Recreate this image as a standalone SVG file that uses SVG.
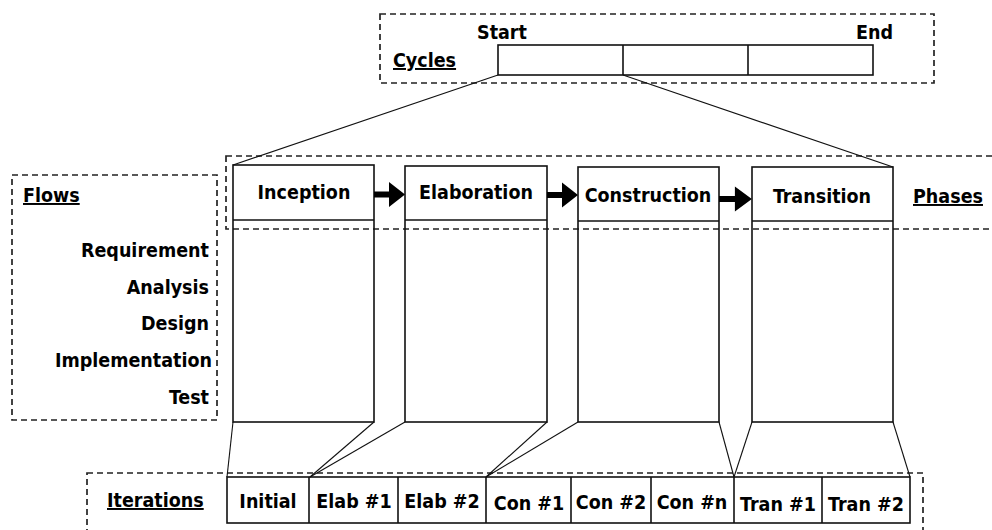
<svg xmlns="http://www.w3.org/2000/svg" width="992" height="530" viewBox="0 0 992 530">
  <style>
    .bg { fill: #ffffff; }
    .box { fill: none; stroke: #111; stroke-width: 1.6; }
    .dash { fill: none; stroke: #222; stroke-width: 1.7; stroke-dasharray: 6 4; }
    .thin { fill: none; stroke: #111; stroke-width: 1.1; }
    .lbl { font-family: "DejaVu Sans Condensed", "DejaVu Sans", "Liberation Sans", sans-serif; font-weight: bold; font-size: 19.5px; fill: #000; }
    .mid { text-anchor: middle; }
    .end { text-anchor: end; }
    .ul { text-decoration: underline; }
    .arrow { fill: #000; }
  </style>
  <defs>
    <!-- block arrow, tail at origin pointing right -->
    <path id="blockArrow" d="M0,-3 L15,-3 L15,-12.5 L31,0 L15,12.5 L15,3 L0,3 Z"/>
  </defs>

  <rect class="bg" x="0" y="0" width="992" height="530"/>

  <!-- Cycles -->
  <g id="cycles">
    <rect class="dash" x="380" y="14" width="554" height="69"/>
    <text class="lbl ul" x="393" y="67">Cycles</text>
    <text class="lbl" x="477" y="39">Start</text>
    <text class="lbl" x="856" y="39">End</text>
    <rect class="box" x="498" y="45" width="375" height="30"/>
    <line class="box" x1="623" y1="45" x2="623" y2="75"/>
    <line class="box" x1="748" y1="45" x2="748" y2="75"/>
  </g>

  <!-- Phases band -->
  <g id="phases-band">
    <rect class="dash" x="226" y="156" width="800" height="73"/>
    <text class="lbl ul" x="913" y="203">Phases</text>
  </g>

  <!-- Flows -->
  <g id="flows">
    <rect class="dash" x="12" y="175" width="205" height="245"/>
    <text class="lbl ul" x="23" y="202">Flows</text>
    <text class="lbl end" x="209" y="257">Requirement</text>
    <text class="lbl end" x="209" y="294">Analysis</text>
    <text class="lbl end" x="209" y="330">Design</text>
    <text class="lbl end" x="212" y="367">Implementation</text>
    <text class="lbl end" x="209" y="404">Test</text>
  </g>

  <!-- Phase columns -->
  <g id="inception">
    <rect class="box" x="233" y="165" width="141" height="257"/>
    <line class="box" x1="233" y1="220" x2="374" y2="220"/>
    <text class="lbl mid" x="304" y="199">Inception</text>
  </g>
  <g id="elaboration">
    <rect class="box" x="405" y="166" width="142" height="256"/>
    <line class="box" x1="405" y1="220" x2="547" y2="220"/>
    <text class="lbl mid" x="476" y="199">Elaboration</text>
  </g>
  <g id="construction">
    <rect class="box" x="578" y="167" width="141" height="255"/>
    <line class="box" x1="578" y1="221" x2="719" y2="221"/>
    <text class="lbl mid" x="648" y="202">Construction</text>
  </g>
  <g id="transition">
    <rect class="box" x="752" y="167" width="141" height="255"/>
    <line class="box" x1="752" y1="221" x2="893" y2="221"/>
    <text class="lbl mid" x="822" y="203">Transition</text>
  </g>

  <!-- Iterations -->
  <g id="iterations">
    <rect class="dash" x="87" y="473" width="836" height="80"/>
    <text class="lbl ul" x="107" y="507">Iterations</text>
    <rect class="box" x="227" y="477" width="683" height="46"/>
    <line class="box" x1="309" y1="477" x2="309" y2="523"/>
    <line class="box" x1="398" y1="477" x2="398" y2="523"/>
    <line class="box" x1="486" y1="477" x2="486" y2="523"/>
    <line class="box" x1="571" y1="477" x2="571" y2="523"/>
    <line class="box" x1="651" y1="477" x2="651" y2="523"/>
    <line class="box" x1="734" y1="477" x2="734" y2="523"/>
    <line class="box" x1="822" y1="477" x2="822" y2="523"/>
    <text class="lbl mid" x="268" y="508">Initial</text>
    <text class="lbl mid" x="354" y="508">Elab #1</text>
    <text class="lbl mid" x="442" y="508">Elab #2</text>
    <text class="lbl mid" x="529" y="510">Con #1</text>
    <text class="lbl mid" x="611" y="509">Con #2</text>
    <text class="lbl mid" x="692" y="509">Con #n</text>
    <text class="lbl mid" x="778" y="511">Tran #1</text>
    <text class="lbl mid" x="866" y="511">Tran #2</text>
  </g>

  <!-- Connectors -->
  <g id="connectors">
    <!-- cycle expands into the phases -->
    <line class="thin" x1="498" y1="75" x2="233" y2="165"/>
    <line class="thin" x1="623" y1="75" x2="893" y2="167"/>
    <!-- phase order arrows -->
    <use href="#blockArrow" class="arrow" transform="translate(374,194.5)"/>
    <use href="#blockArrow" class="arrow" transform="translate(547,195)"/>
    <use href="#blockArrow" class="arrow" transform="translate(719,199) scale(1.06,1)"/>
    <!-- phases expand into iterations -->
    <line class="thin" x1="233" y1="422" x2="227" y2="477"/>
    <line class="thin" x1="374" y1="422" x2="310" y2="477"/>
    <line class="thin" x1="405" y1="422" x2="310" y2="477"/>
    <line class="thin" x1="547" y1="422" x2="486" y2="477"/>
    <line class="thin" x1="578" y1="422" x2="486" y2="477"/>
    <line class="thin" x1="719" y1="422" x2="734" y2="477"/>
    <line class="thin" x1="752" y1="422" x2="734" y2="477"/>
    <line class="thin" x1="893" y1="422" x2="910" y2="477"/>
  </g>
</svg>
